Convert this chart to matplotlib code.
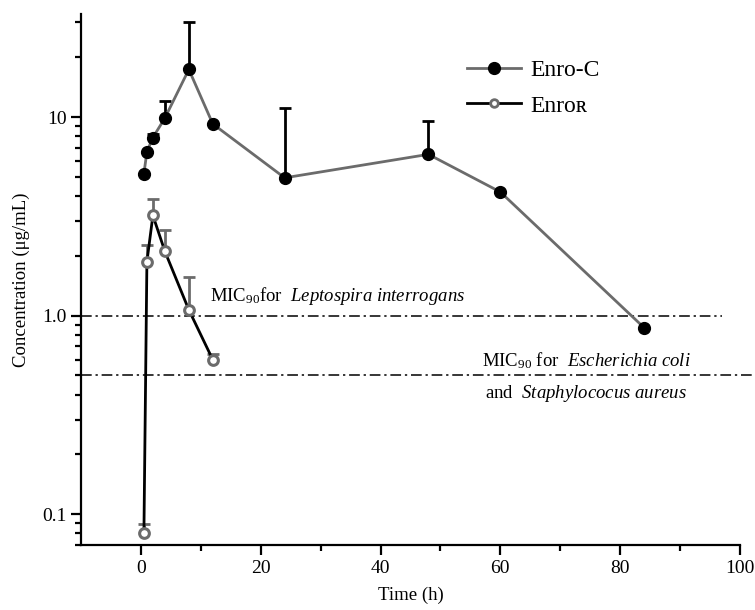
import matplotlib
matplotlib.use("Agg")
import matplotlib.pyplot as plt
from matplotlib.lines import Line2D

plt.rcParams['font.family'] = ['Liberation Serif', 'DejaVu Serif']
plt.rcParams['mathtext.fontset'] = 'custom'
plt.rcParams['mathtext.rm'] = 'Liberation Serif'
plt.rcParams['mathtext.it'] = 'Liberation Serif:italic'

# Enro-C
time_c = [0.5, 1, 2, 4, 8, 12, 24, 48, 60, 84]
conc_c = [5.2, 6.7, 7.9, 9.9, 17.4, 9.25, 4.95, 6.5, 4.2, 0.87]
err_c = [0, 0, 0.32, 2.1, 12.6, 0, 6.2, 3.05, 0, 0]

# Enro-R
time_r = [0.5, 1, 2, 4, 8, 12]
conc_r = [0.08, 1.87, 3.2, 2.11, 1.07, 0.60]
err_r = [0.009, 0.39, 0.67, 0.58, 0.49, 0.04]

mic_lepto = 1.0
mic_ecoli = 0.5

gray = '#6b6b6b'


def upper_bars(ax, t, y, err, color):
    """Draw upper-only error bars with a cap on top."""
    pts = [(ti, yi, ei) for ti, yi, ei in zip(t, y, err) if ei > 0]
    xs = [p[0] for p in pts]
    lo = [p[1] for p in pts]
    hi = [p[1] + p[2] for p in pts]
    ax.vlines(xs, lo, hi, color=color, lw=2, zorder=2)
    ax.plot(xs, hi, ls='none', marker='_', ms=8, mew=2, color=color, zorder=2)


fig = plt.figure(figsize=(7.55, 6.1), dpi=100)
ax = fig.add_axes([0.1073, 0.1066, 0.8728, 0.870])

# MIC reference lines
dashes = (7, 2.5, 1.5, 2.5)
ax.plot([-10, 97], [mic_lepto, mic_lepto], color='black', lw=1.1,
        dashes=dashes, zorder=1)
ax.plot([-10, 102.5], [mic_ecoli, mic_ecoli], color='black', lw=1.1,
        dashes=dashes, zorder=1, clip_on=False)

# Enro-C
upper_bars(ax, time_c, conc_c, err_c, 'black')
ax.plot(time_c, conc_c, color=gray, lw=2, marker='o', ms=8.5,
        mfc='black', mec='black', zorder=3)

# Enro-R
upper_bars(ax, time_r, conc_r, err_r, gray)
ax.plot(time_r, conc_r, color='black', lw=2, zorder=3)
ax.plot(time_r, conc_r, ls='none', marker='o', ms=7, mfc='white',
        mec=gray, mew=2.2, zorder=4)

ax.set_yscale('log')
ax.set_xlim(-10, 100)
ax.set_ylim(0.07, 33)
ax.set_xticks([0, 20, 40, 60, 80, 100])
ax.set_xticks([10, 30, 50, 70, 90], minor=True)
ax.set_yticks([0.1, 1, 10])
ax.set_yticklabels(['0.1', '1.0', '10'])

for s in ['top', 'right']:
    ax.spines[s].set_visible(False)
for s in ['left', 'bottom']:
    ax.spines[s].set_linewidth(1.6)
ax.tick_params(which='major', length=7, width=1.6, labelsize=14, direction='out')
ax.tick_params(which='minor', length=4, width=1.6, direction='out')
ax.tick_params(axis='y', which='both', right=False)

ax.set_xlabel('Time (h)', fontsize=13.5, labelpad=7)
ax.set_ylabel('Concentration (μg/mL)', fontsize=13.5, labelpad=9)

ax.text(11.6, 1.18, r'MIC$_{90}$for  $\it{Leptospira\ interrogans}$',
        fontsize=13.5, va='baseline')
ax.text(57, 0.555, r'MIC$_{90}$ for  $\it{Escherichia\ coli}$',
        fontsize=13.5, va='baseline')
ax.text(57.5, 0.385, r'and  $\it{Staphylococus\ aureus}$',
        fontsize=13.5, va='baseline')

handles = [
    Line2D([], [], color=gray, lw=2, marker='o', ms=8.5, mfc='black', mec='black'),
    Line2D([], [], color='black', lw=2, marker='o', ms=5.5, mfc='white',
           mec=gray, mew=2),
]
ax.legend(handles, ['Enro-C', 'Enro\u0280'], loc='upper left',
          bbox_to_anchor=(0.553, 0.955), frameon=False, fontsize=17,
          handlelength=2.3, handletextpad=0.4, labelspacing=0.6)

fig.savefig('out.png', dpi=100)
